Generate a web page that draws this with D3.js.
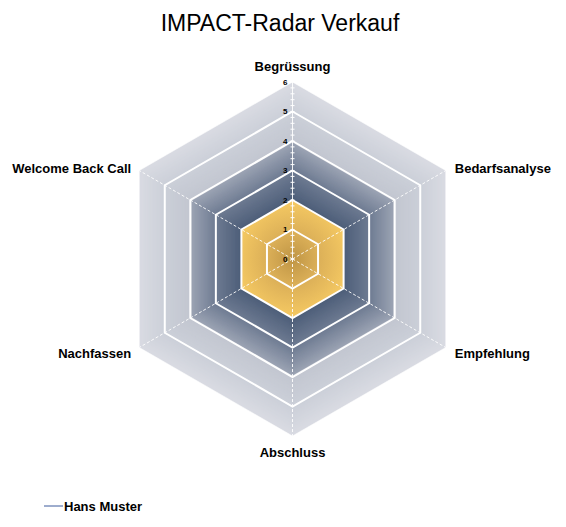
<!DOCTYPE html>
<html>
<head>
<meta charset="utf-8">
<script src="https://cdn.jsdelivr.net/npm/d3@7"></script>
<style>
  body { margin: 0; background: #fff; }
  svg { display: block; font-family: "Liberation Sans", Arial, sans-serif; }
</style>
</head>
<body>
<svg id="chart"></svg>
<script>
// chart data
const categories = ['Begrüssung', 'Bedarfsanalyse', 'Empfehlung', 'Abschluss', 'Nachfassen', 'Welcome Back Call'];
const hansMuster = [2, 2, 2, 2, 2, 2];
const ticks = [0, 1, 2, 3, 4, 5, 6];
const seriesName = 'Hans Muster';

const width = 566, height = 527;
const cx = 292.5, cy = 259;
const outer = 177;

const svg = d3.select('#chart')
    .attr('width', width)
    .attr('height', height);

const r = d3.scaleLinear().domain([0, 6]).range([0, outer]);
const angle = d3.scaleLinear().domain([0, categories.length]).range([0, 2 * Math.PI]);

// background shading follows the hexagon shape, dark in the middle, light at the rim
const shade = d3.scaleLinear()
    .domain([0, 2, 3, 3.97, 4.0, 5, 6])
    .range(['#2e3c57', '#4c5d78', '#6d7a91', '#9ba3b3', '#c2c6d0', '#cbcfd8', '#d9dbe2']);

const defs = svg.append('defs');
const yg = defs.append('radialGradient')
    .attr('id', 'yellowGrad')
    .attr('gradientUnits', 'userSpaceOnUse')
    .attr('cx', 0).attr('cy', 0).attr('r', r(2));
[[0, '#bf9545'], [0.45, '#dcb058'], [1, '#f6ca63']]
    .forEach(([o, c]) => yg.append('stop').attr('offset', o).attr('stop-color', c));

const g = svg.append('g').attr('transform', `translate(${cx},${cy})`);

const hexLine = d3.lineRadial()
    .angle((d, i) => angle(i))
    .radius(d => r(d))
    .curve(d3.curveLinearClosed);

// plot area background
g.selectAll('.bg')
    .data(d3.range(6, 0, -0.05))
    .enter()
    .append('path')
    .attr('class', 'bg')
    .attr('d', v => hexLine(categories.map(() => v)))
    .attr('fill', v => shade(v));

// series
g.append('path')
    .attr('d', hexLine(hansMuster))
    .attr('fill', 'url(#yellowGrad)');

// spokes (dashed)
const point = (i, v) => [r(v) * Math.sin(angle(i)), -r(v) * Math.cos(angle(i))];
g.selectAll('.spoke')
    .data(categories)
    .enter()
    .append('line')
    .attr('class', 'spoke')
    .attr('x1', 0).attr('y1', 0)
    .attr('x2', (d, i) => point(i, 6)[0])
    .attr('y2', (d, i) => point(i, 6)[1])
    .attr('stroke', '#fff')
    .attr('stroke-width', 1)
    .attr('stroke-dasharray', (d, i) => i === 0 ? null : '3,2')
    .attr('opacity', 0.9);

// minor ticks on the value axis
const minor = d3.range(0, 6.001, 0.2);
g.selectAll('.minor')
    .data(minor)
    .enter()
    .append('line')
    .attr('x1', -2).attr('x2', 2)
    .attr('y1', d => -r(d)).attr('y2', d => -r(d))
    .attr('stroke', '#fff')
    .attr('stroke-width', 1);

// grid rings
g.selectAll('.ring')
    .data(ticks.filter(t => t > 0))
    .enter()
    .append('path')
    .attr('class', 'ring')
    .attr('d', t => hexLine(categories.map(() => t)))
    .attr('fill', 'none')
    .attr('stroke', '#fff')
    .attr('stroke-width', t => t === 6 ? 1 : 2)
    .attr('opacity', t => t === 6 ? 0.6 : 1);

// tick labels
g.selectAll('.tick-label')
    .data(ticks)
    .enter()
    .append('text')
    .attr('x', -5)
    .attr('y', d => -r(d))
    .attr('dy', '0.35em')
    .attr('text-anchor', 'end')
    .attr('font-size', 8)
    .attr('font-weight', 'bold')
    .attr('fill', '#000')
    .text(d => d);

// category labels
const labelPos = [
    { x: 0, y: -r(6) - 16, anchor: 'middle' },
    { x: point(1, 6)[0] + 9, y: point(1, 6)[1] - 2, anchor: 'start' },
    { x: point(2, 6)[0] + 9, y: point(2, 6)[1] + 6, anchor: 'start' },
    { x: 0, y: r(6) + 16, anchor: 'middle' },
    { x: point(4, 6)[0] - 8, y: point(4, 6)[1] + 6, anchor: 'end' },
    { x: point(5, 6)[0] - 8, y: point(5, 6)[1] - 2, anchor: 'end' }
];
g.selectAll('.cat')
    .data(categories)
    .enter()
    .append('text')
    .attr('x', (d, i) => labelPos[i].x)
    .attr('y', (d, i) => labelPos[i].y)
    .attr('dy', '0.35em')
    .attr('text-anchor', (d, i) => labelPos[i].anchor)
    .attr('font-size', 13)
    .attr('font-weight', 'bold')
    .attr('fill', '#000')
    .text(d => d);

// title
svg.append('text')
    .attr('x', 280)
    .attr('y', 31)
    .attr('text-anchor', 'middle')
    .attr('font-size', 23)
    .attr('fill', '#000')
    .text('IMPACT-Radar Verkauf');

// legend
const legend = svg.append('g').attr('transform', 'translate(44,506)');
legend.append('line')
    .attr('x1', 0).attr('x2', 19)
    .attr('stroke', '#3d5a9c')
    .attr('stroke-width', 1);
legend.append('text')
    .attr('x', 20)
    .attr('dy', '0.35em')
    .attr('font-size', 13)
    .attr('font-weight', 'bold')
    .text(seriesName);
</script>
</body>
</html>
